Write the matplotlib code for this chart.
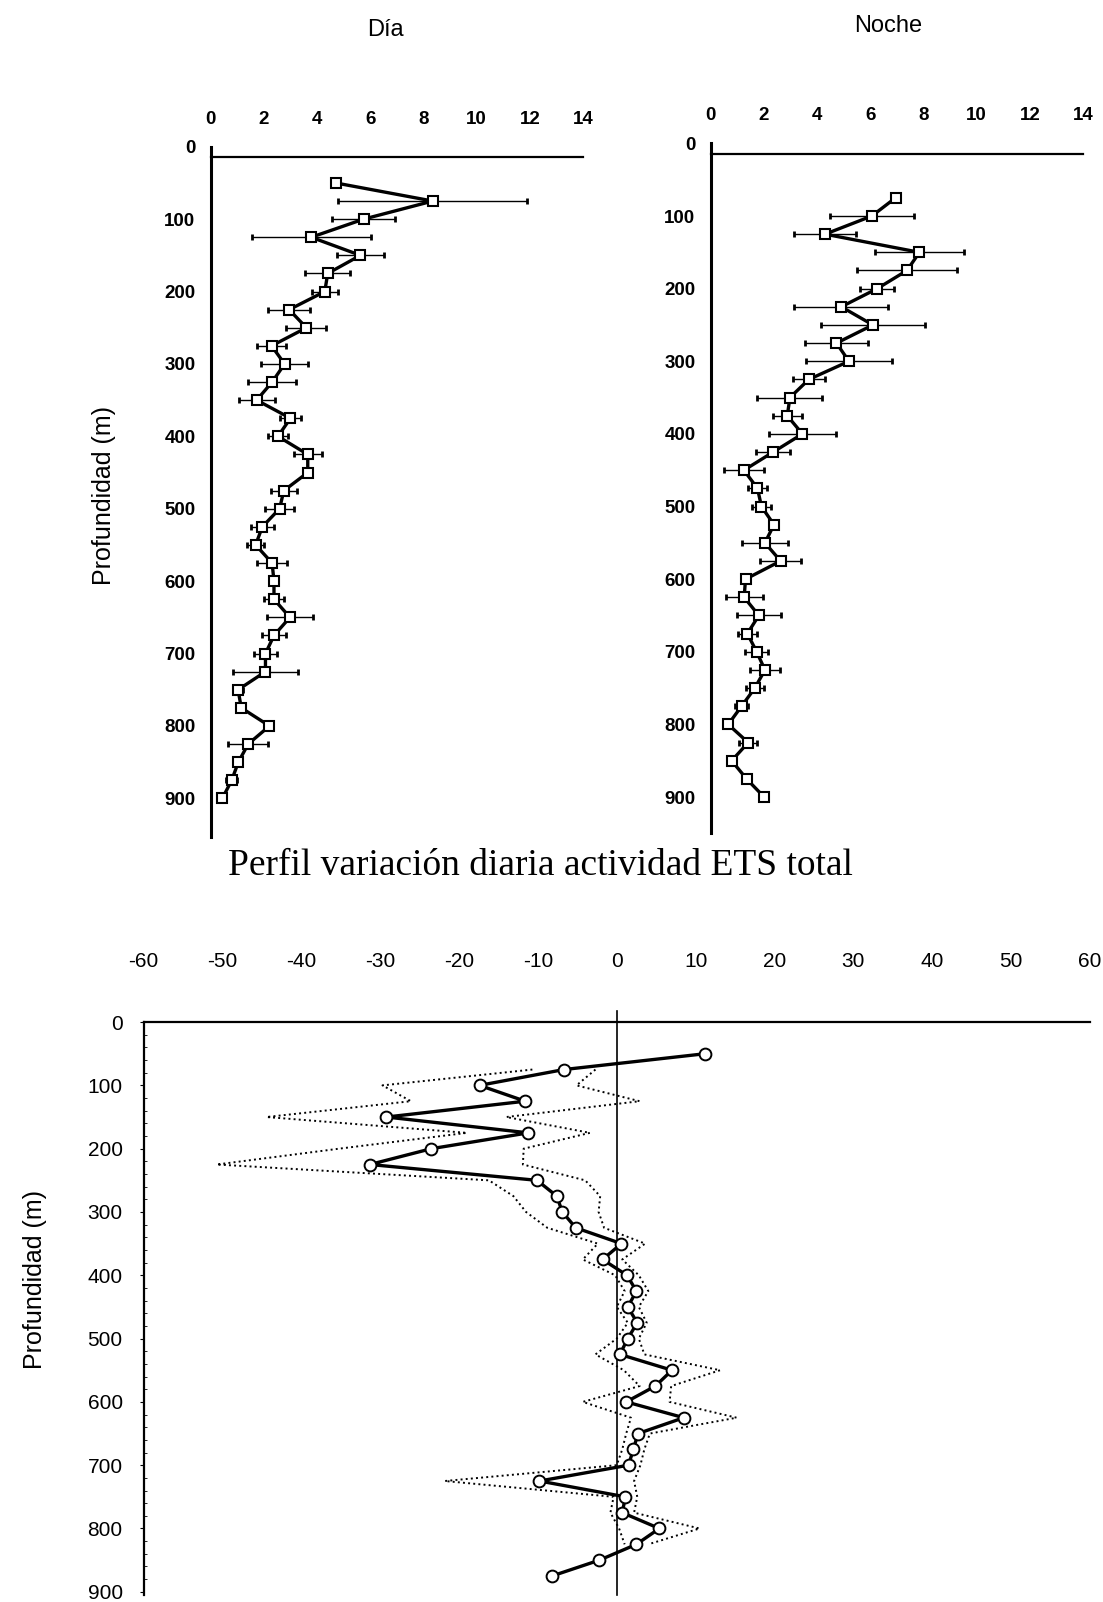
import numpy as np
import matplotlib.pyplot as plt

# perfiles de actividad ETS (dia / noche) y su diferencia
prof_dia = [50, 75, 100, 125, 150, 175, 200, 225, 250, 275,
            300, 325, 350, 375, 400, 425, 450, 475, 500, 525,
            550, 575, 600, 625, 650, 675, 700, 725, 750, 775,
            800, 825, 850, 875, 900]
dia = [4.7, 8.35, 5.75, 3.78, 5.63, 4.4, 4.29, 2.95, 3.6, 2.29,
       2.78, 2.31, 1.73, 3.0, 2.53, 3.65, 3.65, 2.75, 2.59, 1.94,
       1.69, 2.31, 2.38, 2.38, 2.98, 2.38, 2.06, 2.06, 1.03, 1.15,
       2.21, 1.41, 1.04, 0.79, 0.44]
dia_err = [0, 3.55, 1.17, 2.24, 0.88, 0.85, 0.48, 0.8, 0.75, 0.55,
           0.87, 0.9, 0.67, 0.4, 0.38, 0.52, 0, 0.48, 0.55, 0.43,
           0.33, 0.55, 0.15, 0.38, 0.85, 0.45, 0.43, 1.22, 0.2, 0.1,
           0, 0.74, 0.15, 0.2, 0]

prof_noche = [75, 100, 125, 150, 175, 200, 225, 250, 275, 300,
              325, 350, 375, 400, 425, 450, 475, 500, 525, 550,
              575, 600, 625, 650, 675, 700, 725, 750, 775, 800,
              825, 850, 875, 900]
noche = [6.95, 6.06, 4.3, 7.85, 7.38, 6.26, 4.91, 6.1, 4.73, 5.2,
         3.69, 2.98, 2.88, 3.45, 2.35, 1.25, 1.76, 1.91, 2.38, 2.04,
         2.63, 1.31, 1.26, 1.81, 1.38, 1.73, 2.04, 1.66, 1.16, 0.66,
         1.41, 0.79, 1.35, 2.01]
noche_err = [0, 1.57, 1.18, 1.66, 1.88, 0.65, 1.76, 1.97, 1.2, 1.62,
             0.6, 1.22, 0.55, 1.27, 0.63, 0.75, 0.34, 0.34, 0.1, 0.87,
             0.76, 0, 0.7, 0.82, 0.35, 0.43, 0.55, 0.33, 0.23, 0.1,
             0.33, 0.15, 0, 0]

prof_dif = [50, 75, 100, 125, 150, 175, 200, 225, 250, 275,
            300, 325, 350, 375, 400, 425, 450, 475, 500, 525,
            550, 575, 600, 625, 650, 675, 700, 725, 750, 775,
            800, 825, 850, 875]
dif = [11.2, -6.7, -17.4, -11.6, -29.2, -11.2, -23.5, -31.3, -10.1, -7.6,
       -6.9, -5.2, 0.6, -1.8, 1.3, 2.5, 1.4, 2.6, 1.4, 0.4,
       7.0, 4.9, 1.2, 8.5, 2.7, 2.1, 1.5, -9.8, 1.1, 0.7,
       5.4, 2.5, -2.2, -8.2]
dif_err = [np.nan, 4.0, 12.3, 14.5, 15.2, 7.8, 11.7, 19.4, 6.1, 5.5,
           4.6, 3.6, 3.0, 2.5, 1.5, 1.5, 1.4, 1.2, 1.4, 3.1,
           6.1, 2.0, 5.5, 6.7, 1.5, 1.4, 1.5, 12.0, 1.5, 1.5,
           5.1, 1.5, np.nan, np.nan]

plt.rcParams['font.family'] = ['Liberation Sans', 'DejaVu Sans']
plt.rcParams['axes.unicode_minus'] = False

fig = plt.figure(figsize=(11.03, 16.02), dpi=100)


def perfil(rect, prof, val, err, ybot, spine_at):
    ax = fig.add_axes(rect)
    ax.errorbar(val, prof, xerr=err, fmt='none', ecolor='k',
                elinewidth=1.0, capsize=2, capthick=2)
    ax.plot(val, prof, '-', color='k', lw=2.4, marker='s', ms=6.5,
            mfc='white', mec='k', mew=1.5, zorder=3)
    ax.set_xlim(0, 14)
    ax.set_ylim(ybot, 0)
    ax.xaxis.tick_top()
    ax.spines['right'].set_visible(False)
    ax.spines['bottom'].set_visible(False)
    ax.spines['top'].set_position(('data', spine_at))
    ax.spines['top'].set_linewidth(1.6)
    ax.spines['left'].set_linewidth(2.2)
    ax.set_xticks(range(0, 15, 2))
    ax.set_yticks(range(0, 901, 100))
    ax.tick_params(axis='x', length=0, labelsize=13.5, pad=21)
    ax.tick_params(axis='y', length=0, labelsize=13.5, pad=11)
    for t in ax.get_xticklabels() + ax.get_yticklabels():
        t.set_fontweight('bold')
    return ax


perfil([0.191, 0.4777, 0.3376, 0.4307], prof_dia, dia, dia_err, 953, 14)
perfil([0.6443, 0.4798, 0.3376, 0.4307], prof_noche, noche, noche_err, 950, 14)

fig.text(0.349, 0.981, 'Día', fontsize=17, ha='center', va='center')
fig.text(0.805, 0.984, 'Noche', fontsize=17, ha='center', va='center')
fig.text(0.094, 0.691, 'Profundidad (m)', fontsize=18, rotation=90,
         ha='center', va='center')
fig.text(0.4896, 0.4594, 'Perfil variación diaria actividad ETS total',
         fontsize=27, ha='center', va='center', family='Liberation Serif')

# diferencia dia - noche con su banda punteada
ax3 = fig.add_axes([0.1301, 0.0044, 0.8581, 0.3576])
d = np.array(dif)
e = np.array(dif_err)
ax3.plot(d - e, prof_dif, ':', color='k', lw=1.4)
ax3.plot(d + e, prof_dif, ':', color='k', lw=1.4)
ax3.plot(dif, prof_dif, '-', color='k', lw=2.4, marker='o', ms=8.5,
         mfc='white', mec='k', mew=1.4, zorder=3)
ax3.axvline(0, ymin=0, ymax=1.02, color='k', lw=1.2, clip_on=False)
ax3.set_xlim(-60, 60)
ax3.set_ylim(905, 0)
ax3.xaxis.tick_top()
ax3.spines['right'].set_visible(False)
ax3.spines['bottom'].set_visible(False)
ax3.spines['top'].set_linewidth(1.6)
ax3.spines['left'].set_linewidth(1.6)
ax3.set_xticks(range(-60, 61, 10))
ax3.set_yticks(range(0, 901, 100))
ax3.set_yticks(range(0, 901, 20), minor=True)
ax3.tick_params(axis='x', length=0, labelsize=15, pad=37)
ax3.tick_params(axis='y', which='major', direction='out', length=3,
                labelsize=15, pad=12)
ax3.tick_params(axis='y', which='minor', direction='in', length=2)
fig.text(0.0317, 0.201, 'Profundidad (m)', fontsize=18, rotation=90,
         ha='center', va='center')

fig.savefig('out.png', dpi=100)
